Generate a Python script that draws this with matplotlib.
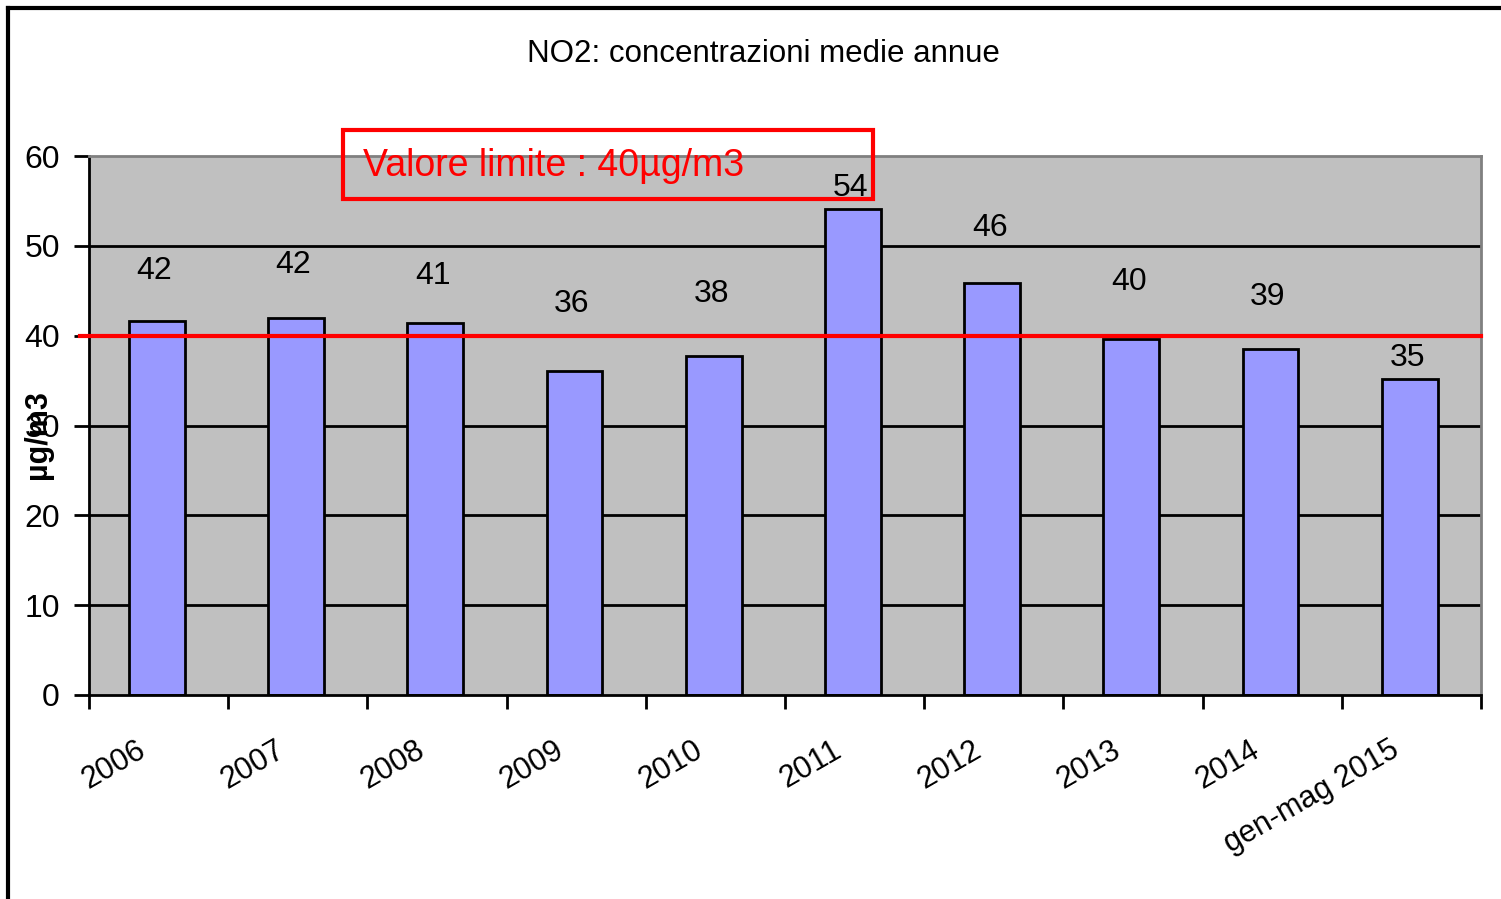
import matplotlib
matplotlib.use("Agg")
import matplotlib.pyplot as plt
from matplotlib.lines import Line2D
from matplotlib.patches import Rectangle
import numpy as np

# ---- data ----
categories = ["2006", "2007", "2008", "2009", "2010", "2011", "2012", "2013", "2014", "gen-mag 2015"]
values = [41.6, 42.0, 41.4, 36.1, 37.7, 54.1, 45.9, 39.6, 38.5, 35.2]
value_labels = ["42", "42", "41", "36", "38", "54", "46", "40", "39", "35"]
limit_value = 40
y_ticks = [0, 10, 20, 30, 40, 50, 60]
title = "NO2: concentrazioni medie annue"
y_label = "µg/m3"
limit_text = "Valore limite : 40µg/m3"

# layout: label offsets above bars (data units), as placed in the original
label_offsets = [5.6, 5.9, 5.2, 7.4, 6.9, 2.3, 6.1, 6.4, 5.8, 2.3]

plt.rcParams['font.family'] = ['Liberation Sans', 'DejaVu Sans']

W, H = 1501, 899
fig = plt.figure(figsize=(W / 100, H / 100), dpi=100)
ax = fig.add_axes([89 / W, 1 - 695 / H, (1481 - 89) / W, (695 - 156) / H])
ax.set_facecolor("#C0C0C0")

x = np.arange(len(categories))
ax.set_xlim(-0.5, len(categories) - 0.5)
ax.set_ylim(0, 60)

for yv in y_ticks[1:-1]:
    ax.axhline(yv, color="black", lw=2, zorder=1)

ax.bar(x - 0.012, values, width=0.4, color="#9999FF", edgecolor="black", linewidth=2, zorder=2)

for xi, v, lab, off in zip(x, values, value_labels, label_offsets):
    ax.text(xi - 0.03, v + off, lab, ha="center", va="center", fontsize=23, color="black", zorder=5)

ax.plot([-0.565, len(categories) - 0.5], [limit_value, limit_value], color="#FF0000", lw=3,
        clip_on=False, zorder=4)

ax.set_yticks(y_ticks)
ax.set_yticklabels([str(t) for t in y_ticks], fontsize=23)
ax.set_xticks(np.arange(len(categories) + 1) - 0.5)
ax.set_xticklabels([])
ax.tick_params(axis="y", length=11, width=2, direction="out", pad=10)
ax.tick_params(axis="x", length=10, width=2, direction="out")

for xi, cat in zip(x, categories):
    ax.annotate(cat, xy=(xi, 0), xycoords="data", xytext=(-15, -53), textcoords="offset pixels",
                rotation=30, rotation_mode="anchor", ha="right", va="center", fontsize=22)

for side in ["left", "bottom"]:
    ax.spines[side].set_color("black")
    ax.spines[side].set_linewidth(2)
for side in ["top", "right"]:
    ax.spines[side].set_color("#808080")
    ax.spines[side].set_linewidth(2)

fig.text(763 / W, 1 - 54 / H, title, ha="center", va="center", fontsize=22.5)
fig.text(38 / W, 1 - 435 / H, y_label, ha="center", va="center", rotation=90,
         fontsize=22, fontweight="bold")

# red limit box
fig.patches.append(Rectangle((343 / W, 1 - 199 / H), (873 - 343) / W, (199 - 130) / H,
                             transform=fig.transFigure, fill=False, edgecolor="#FF0000", lw=3, zorder=10))
fig.text(363 / W, 1 - 166 / H, limit_text, ha="left", va="center", fontsize=27, color="#FF0000", zorder=11)

# outer frame
fig.add_artist(Line2D([8 / W, 8 / W], [0, 1 - 8 / H], transform=fig.transFigure, color="black", lw=3))
fig.add_artist(Line2D([8 / W, 1], [1 - 8 / H, 1 - 8 / H], transform=fig.transFigure, color="black", lw=3))

fig.savefig("out.png", dpi=100)
